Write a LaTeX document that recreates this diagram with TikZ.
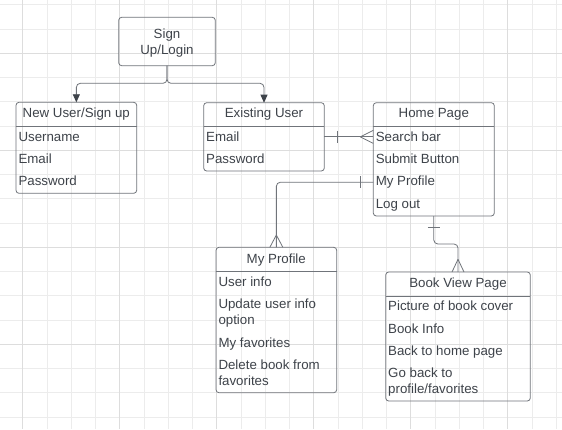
\documentclass[tikz,border=0pt]{standalone}
\usepackage{fontspec}
\setmainfont{Liberation Sans}
\usetikzlibrary{arrows.meta}
\definecolor{gridlight}{RGB}{236,236,236}
\definecolor{griddark}{RGB}{221,221,221}
\definecolor{boxgray}{RGB}{112,116,122}
\definecolor{inkgray}{RGB}{62,67,74}

\begin{document}
\begin{tikzpicture}[x=1pt,y=-1pt,font=\fontsize{13.3}{16}\selectfont,
    every node/.style={text=inkgray,inner sep=0pt,outer sep=0pt},
    box/.style={draw=boxgray,line width=.8pt,rounded corners=3pt,anchor=north west},
    head/.style={anchor=base},
    row/.style={anchor=base west,align=left},
    link/.style={draw=boxgray,line width=.8pt,rounded corners=4pt}]
  \useasboundingbox (0,0) rectangle (562,429);
  \fill[white] (0,0) rectangle (562,429);
  % grid
  \foreach \x in {-1.55,22.7,...,562} \draw[gridlight,line width=.8pt] (\x,0) -- (\x,429);
  \foreach \y in {4.8,29.05,...,429} \draw[gridlight,line width=.8pt] (0,\y) -- (562,\y);
  \foreach \x in {22.7,119.7,...,562} \draw[griddark,line width=.8pt] (\x,0) -- (\x,429);
  \foreach \y in {53.3,150.3,...,429} \draw[griddark,line width=.8pt] (0,\y) -- (562,\y);

  % boxes (base of a two-line text = its last line)
  \node[box,minimum width=96.6pt,minimum height=48.4pt] (signup) at (118.7,17.3) {};
  \node[head,align=center] (signupT) at (167,54.5) {Sign\\Up/Login};

  \node[box,minimum width=120.7pt,minimum height=91pt] (newuser) at (16,102.3) {};
  \draw[boxgray,line width=.8pt] ([yshift=-24pt]newuser.north west) -- ([yshift=-24pt]newuser.north east);
  \node[head] (newuserT) at (76.3,117.7) {New User/Sign up};
  \node[row] (nu1) at (18.5,141) {Username};
  \node[row] (nu2) at (18.5,163.3) {Email};
  \node[row] (nu3) at (18.5,185.7) {Password};

  \node[box,minimum width=120.6pt,minimum height=68.3pt] (existing) at (203.7,102.7) {};
  \draw[boxgray,line width=.8pt] ([yshift=-23.5pt]existing.north west) -- ([yshift=-23.5pt]existing.north east);
  \node[head] (existingT) at (264,117.7) {Existing User};
  \node[row] (ex1) at (206.2,141) {Email};
  \node[row] (ex2) at (206.2,163.3) {Password};

  \node[box,minimum width=121pt,minimum height=113.3pt] (home) at (373.3,102.7) {};
  \draw[boxgray,line width=.8pt] ([yshift=-23.5pt]home.north west) -- ([yshift=-23.5pt]home.north east);
  \node[head] (homeT) at (433.8,117.7) {Home Page};
  \node[row] (hp1) at (375.8,141) {Search bar};
  \node[row] (hp2) at (375.8,163.3) {Submit Button};
  \node[row] (hp3) at (375.8,185.7) {My Profile};
  \node[row] (hp4) at (375.8,208.3) {Log out};

  \node[box,minimum width=120.7pt,minimum height=145.4pt] (myprofile) at (216,247.3) {};
  \draw[boxgray,line width=.8pt] ([yshift=-24.4pt]myprofile.north west) -- ([yshift=-24.4pt]myprofile.north east);
  \node[head] (myprofileT) at (276.3,263.3) {My Profile};
  \node[row] (mp1) at (218.5,286.7) {User info};
  \node[row] (mp2) at (218.5,324.3) {Update user info\\option};
  \node[row] (mp3) at (218.5,347) {My favorites};
  \node[row] (mp4) at (218.5,385.3) {Delete book from\\favorites};

  \node[box,minimum width=144.6pt,minimum height=129pt] (bookview) at (385.7,272) {};
  \draw[boxgray,line width=.8pt] ([yshift=-24pt]bookview.north west) -- ([yshift=-24pt]bookview.north east);
  \node[head] (bookviewT) at (458,287.3) {Book View Page};
  \node[row] (bv1) at (388.2,310.7) {Picture of book cover};
  \node[row] (bv2) at (388.2,333) {Book Info};
  \node[row] (bv3) at (388.2,355.7) {Back to home page};
  \node[row] (bv4) at (388.2,393.7) {Go back to\\profile/favorites};

  % connectors
  \draw[link,-{Triangle[length=8pt,width=7pt,color=inkgray]}] (signup.south) -- ++(0,17.6) -| (newuser.north);
  \draw[link,-{Triangle[length=8pt,width=7pt,color=inkgray]}] (signup.south) -- ++(0,17.6) -| (existing.north);

  \coordinate (eh) at (existing.east -| home.west);
  \draw[link] (existing.east) -- (eh);
  \draw[link] (existing.east) ++(13,-6) -- ++(0,12);
  \draw[link] (eh) ++(-13,0) -- ++(13,-6.5) (eh) ++(-13,0) -- ++(13,6.5);

  \coordinate (hm) at (home.west |- hp3);
  \draw[link] (hm) -| (myprofile.north);
  \draw[link] (hm) ++(-12.6,-6) -- ++(0,12);
  \draw[link] (myprofile.north) ++(0,-12.3) -- ++(-6.5,12.3) (myprofile.north) ++(0,-12.3) -- ++(6.5,12.3);

  \draw[link] (home.south) -- ++(0,28) -| (bookview.north);
  \draw[link] (home.south) ++(-6,11.3) -- ++(12,0);
  \draw[link] (bookview.north) ++(0,-12.7) -- ++(-6,12.7) (bookview.north) ++(0,-12.7) -- ++(6,12.7);
\end{tikzpicture}
\end{document}
